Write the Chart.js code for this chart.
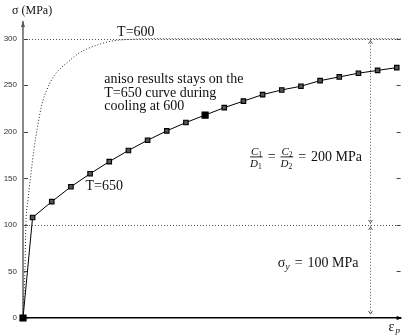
<!DOCTYPE html>
<html>
<head>
<meta charset="utf-8">
<script src="https://cdn.jsdelivr.net/npm/chart.js@4.4.1/dist/chart.umd.min.js"></script>
<style>
html,body{margin:0;padding:0;background:#fff;}
#wrap{width:406px;height:335px;}
</style>
</head>
<body>
<div id="wrap"><canvas id="flowChart" width="406" height="335"></canvas></div>
<script>
// plastic strain axis (no tick labels in the figure)
const strainMax = 0.197
const stressMax = 318

// T=650 hardening curve
const strain650 = [0, 0.005, 0.015, 0.025, 0.035, 0.045, 0.055, 0.065, 0.075, 0.085, 0.095,
    0.105, 0.115, 0.125, 0.135, 0.145, 0.155, 0.165, 0.175, 0.185, 0.195]
const stress650 = [0, 108, 125, 141, 155, 168, 180, 191, 201, 210, 218,
    226, 233, 240, 245, 249, 255, 259, 263, 266, 269]

// T=600 curve (dotted, saturates at 300)
const strain600 = [0, 0.001, 0.0015, 0.0026, 0.0041, 0.0057, 0.0078, 0.0098, 0.0124, 0.0155,
    0.019, 0.024, 0.0295, 0.037, 0.045, 0.057, 0.071, 0.197]
const stress600 = [0, 52, 100, 127, 154, 181, 208, 229, 245, 258,
    267, 276, 285, 292, 297, 299.5, 300, 300]

const yTicks = [0, 50, 100, 150, 200, 250, 300]
const refLevels = [100, 300]
const arrowStrain = 0.181

const serif = "'Liberation Serif', 'Times New Roman', serif"

function chevron(ctx, x, tip, dir){
    // dir = -1 points up, 1 points down
    ctx.beginPath()
    ctx.moveTo(x - 2, tip - dir * 3)
    ctx.lineTo(x, tip)
    ctx.lineTo(x + 2, tip - dir * 3)
    ctx.stroke()
}

function fraction(ctx, px, cy, letterTop, letterBot, sub){
    ctx.font = "italic 11px " + serif
    const w1 = ctx.measureText(letterTop).width
    const w2 = ctx.measureText(letterBot).width
    ctx.font = "7.5px " + serif
    const ws = ctx.measureText(sub).width
    const w = Math.max(w1, w2) + ws + 1
    ctx.font = "italic 11px " + serif
    ctx.fillText(letterTop, px + 1, cy - 2)
    ctx.fillText(letterBot, px, cy + 10)
    ctx.font = "7.5px " + serif
    ctx.fillText(sub, px + 1 + w1, cy)
    ctx.fillText(sub, px + w2, cy + 12)
    ctx.fillRect(px, cy - 0.5, w, 0.9)
    return w
}

const annotations = {
    id: "annotations",
    beforeDatasetsDraw(chart){
        const {ctx, chartArea: a, scales: {x, y}} = chart
        ctx.save()
        ctx.strokeStyle = "#555"
        ctx.lineWidth = 1
        ctx.setLineDash([1, 2])
        refLevels.forEach(v => {
            const py = Math.round(y.getPixelForValue(v)) + 0.5
            ctx.beginPath()
            ctx.moveTo(a.left + 3, py)
            ctx.lineTo(a.right, py)
            ctx.stroke()
        })
        const ax = Math.round(x.getPixelForValue(arrowStrain)) + 0.5
        ctx.beginPath()
        ctx.moveTo(ax, y.getPixelForValue(300) + 1)
        ctx.lineTo(ax, y.getPixelForValue(0) - 2)
        ctx.stroke()
        ctx.setLineDash([])
        chevron(ctx, ax, y.getPixelForValue(300) + 2, -1)
        chevron(ctx, ax, y.getPixelForValue(100) - 2, 1)
        chevron(ctx, ax, y.getPixelForValue(100) + 2, -1)
        chevron(ctx, ax, y.getPixelForValue(0) - 4, 1)

        // small tick marks inside, both sides
        ctx.strokeStyle = "#444"
        yTicks.forEach(v => {
            const py = Math.round(y.getPixelForValue(v)) + 0.5
            ctx.beginPath()
            ctx.moveTo(a.left + 1, py)
            ctx.lineTo(a.left + 5, py)
            ctx.moveTo(a.right - 4, py)
            ctx.lineTo(a.right, py)
            ctx.stroke()
        })
        ctx.restore()
    },
    afterDraw(chart){
        const {ctx, chartArea: a, scales: {x, y}} = chart
        ctx.save()

        // axis arrows
        ctx.fillStyle = "#555"
        ctx.beginPath()
        ctx.moveTo(a.left, a.top - 1)
        ctx.lineTo(a.left - 2, a.top + 5)
        ctx.lineTo(a.left + 2, a.top + 5)
        ctx.fill()
        ctx.fillStyle = "#000"
        ctx.beginPath()
        ctx.moveTo(a.right + 2, a.bottom)
        ctx.lineTo(a.right - 4, a.bottom - 2)
        ctx.lineTo(a.right - 4, a.bottom + 2)
        ctx.fill()

        ctx.fillStyle = "#111"
        ctx.textBaseline = "alphabetic"
        ctx.textAlign = "left"

        // axis titles
        ctx.font = "12px " + serif
        ctx.fillText("\u03c3 (MPa)", 12, 14)
        ctx.font = "14px " + serif
        ctx.fillText("\u03b5", a.right - 12, a.bottom + 13)
        ctx.font = "italic 9px " + serif
        ctx.fillText("p", a.right - 5, a.bottom + 15)

        // curve labels
        ctx.font = "14px " + serif
        ctx.fillText("T=600", x.getPixelForValue(0.0491), y.getPixelForValue(303))
        ctx.fillText("T=650", x.getPixelForValue(0.0326), y.getPixelForValue(137.5))
        const note = ["aniso results stays on the", "T=650 curve during", "cooling at 600"]
        const noteY = [252, 237.4, 223]
        note.forEach((t, i) => ctx.fillText(t, x.getPixelForValue(0.0424), y.getPixelForValue(noteY[i])))

        // C1/D1 = C2/D2 = 200 MPa
        let px = x.getPixelForValue(0.1184)
        const cy = y.getPixelForValue(173)
        px += fraction(ctx, px, cy, "C", "D", "1")
        ctx.font = "14px " + serif
        px += 5
        ctx.fillText("=", px, cy + 4.5)
        px += ctx.measureText("=").width + 5
        px += fraction(ctx, px, cy, "C", "D", "2")
        ctx.font = "14px " + serif
        px += 5
        ctx.fillText("=", px, cy + 4.5)
        px += ctx.measureText("=").width + 5
        ctx.fillText("200 MPa", px, cy + 4.5)

        // sigma_y = 100 MPa
        let sx = x.getPixelForValue(0.1329)
        const sb = y.getPixelForValue(54.8)
        ctx.font = "14px " + serif
        ctx.fillText("\u03c3", sx, sb)
        sx += ctx.measureText("\u03c3").width
        ctx.font = "italic 10px " + serif
        ctx.fillText("y", sx, sb + 3)
        sx += ctx.measureText("y").width + 5
        ctx.font = "14px " + serif
        ctx.fillText("=", sx, sb)
        sx += ctx.measureText("=").width + 5
        ctx.fillText("100 MPa", sx, sb)

        ctx.restore()
    }
}

const flowCtx =
document
.getElementById("flowChart")

const flowChart =
new Chart(flowCtx, {

    type: "line",

    data: {
        datasets: [{
            label: "T=600",
            data: strain600.map((v, i) => ({x: v, y: stress600[i]})),
            borderColor: "#222",
            borderWidth: 1,
            borderDash: [1, 2],
            pointRadius: 0,
            cubicInterpolationMode: "monotone",
            clip: false
        }, {
            label: "T=650",
            data: strain650.map((v, i) => ({x: v, y: stress650[i]})),
            borderColor: "#000",
            borderWidth: 1,
            pointStyle: "rect",
            pointRadius: strain650.map((v, i) => (i === 0 || i === 10) ? 4.3 : 3.2),
            pointBackgroundColor: strain650.map((v, i) => (i === 0 || i === 10) ? "#000" : "#555"),
            pointBorderColor: "#000",
            pointBorderWidth: 1.1,
            clip: false
        }]
    },

    options: {
        responsive: false,
        animation: false,
        layout: {padding: {left: 0, right: 2, top: 22, bottom: 0}},
        plugins: {legend: {display: false}, tooltip: {enabled: false}},
        scales: {
            x: {
                type: "linear",
                min: 0,
                max: strainMax,
                ticks: {display: false},
                grid: {display: false, drawTicks: false},
                border: {display: true, color: "#000", width: 1.6},
                afterFit(s){ s.height = 17 }
            },
            y: {
                type: "linear",
                min: 0,
                max: stressMax,
                afterBuildTicks(s){ s.ticks = yTicks.map(v => ({value: v})) },
                ticks: {
                    font: {family: "'Liberation Sans', Arial, sans-serif", size: 8},
                    color: "#333",
                    padding: 6
                },
                grid: {display: false, drawTicks: false},
                border: {display: true, color: "#888", width: 2},
                afterFit(s){ s.width = 23 }
            }
        }
    },

    plugins: [annotations]
})
</script>
</body>
</html>
